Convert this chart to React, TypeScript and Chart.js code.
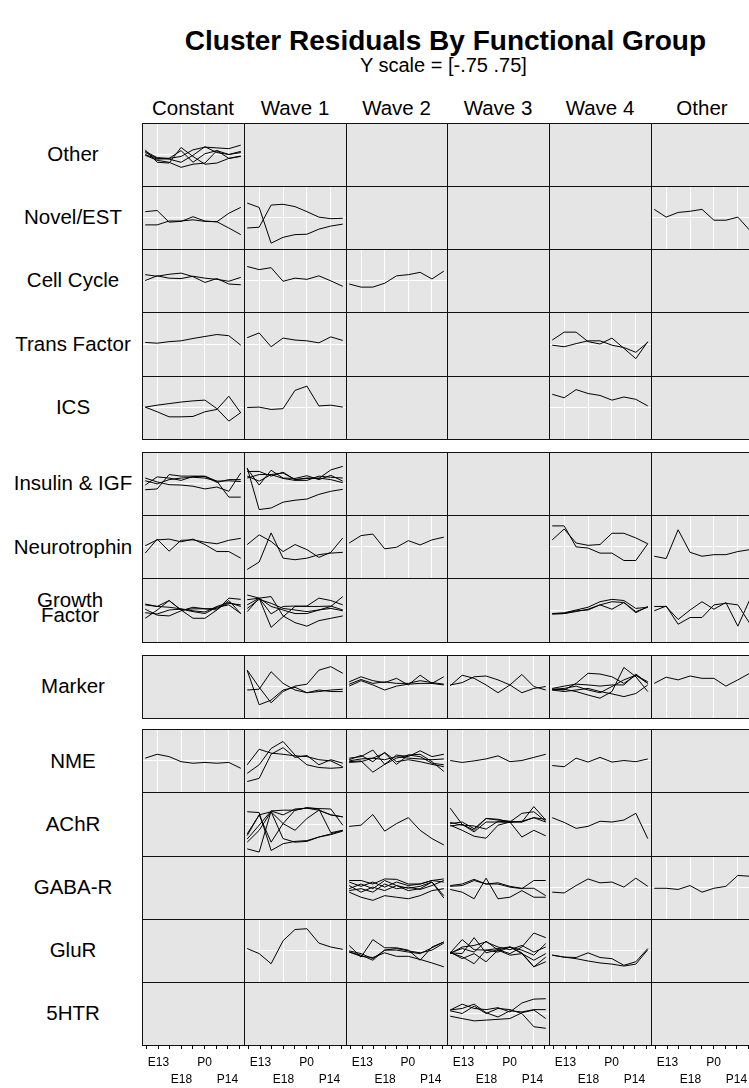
import React, { useEffect, useRef } from "react";
import { Chart, registerables } from "chart.js";

Chart.register(...registerables);

// ---------- text / categories ----------
const titleText = "Cluster Residuals By Functional Group";
const subtitleText = "Y scale = [-.75 .75]";
const clusters = ["Constant", "Wave 1", "Wave 2", "Wave 3", "Wave 4", "Other"];
const groups = [
  "Other", "Novel/EST", "Cell Cycle", "Trans Factor", "ICS",
  "Insulin & IGF", "Neurotrophin", "Growth Factor",
  "Marker",
  "NME", "AChR", "GABA-R", "GluR", "5HTR",
];
const groupLabelLines: Record<string, string[]> = { "Growth Factor": ["Growth", "Factor"] };
const timePoints = ["E11", "E13", "E15", "E18", "E21", "P0", "P7", "P14", "A"];
const firstLineTicks = ["E13", "P0"];
const secondLineTicks = ["E18", "P14"];
const gridTimePoints = ["E13", "E18", "P0", "P14"];
const yLimits = [-0.75, 0.75];

// ---------- series values (residuals at the 9 time points) ----------
const otherConstant = [
  [0.12, -0.2, -0.22, 0.18, -0.05, -0.25, -0.22, -0.1, -0.05],
  [0.0, -0.12, -0.1, -0.05, 0.12, 0.19, 0.17, 0.15, 0.24],
  [0.05, -0.1, -0.12, -0.2, -0.02, 0.2, 0.05, 0.0, 0.08],
  [-0.02, -0.15, -0.2, -0.33, -0.25, -0.22, 0.1, 0.0, 0.05],
  [0.08, -0.08, -0.1, 0.1, -0.2, 0.02, 0.1, -0.1, -0.04],
];
const novelConstant = [
  [0.15, 0.18, -0.12, -0.1, 0.02, -0.09, -0.11, 0.11, 0.26],
  [-0.19, -0.19, -0.09, -0.09, -0.06, -0.1, -0.11, -0.27, -0.44],
];
const novelWave1 = [
  [0.37, 0.26, -0.66, -0.51, -0.44, -0.43, -0.3, -0.22, -0.17],
  [-0.27, -0.25, 0.32, 0.34, 0.28, 0.15, 0.01, -0.03, -0.02],
];
const novelOther = [[0.21, 0.01, 0.13, 0.16, 0.21, -0.07, -0.07, 0.01, -0.33]];
const cellCycleConstant = [
  [0.15, 0.11, 0.16, 0.19, 0.1, -0.05, 0.05, -0.09, -0.11],
  [0.0, 0.12, 0.06, 0.05, 0.11, 0.06, 0.03, -0.02, 0.08],
];
const cellCycleWave1 = [[0.36, 0.28, 0.33, -0.02, 0.06, 0.03, 0.12, -0.01, -0.15]];
const cellCycleWave2 = [[-0.09, -0.17, -0.17, -0.07, 0.12, 0.15, 0.21, 0.04, 0.24]];
const transConstant = [[0.04, 0.02, 0.06, 0.08, 0.14, 0.19, 0.24, 0.21, -0.03]];
const transWave1 = [[0.16, 0.28, -0.07, 0.15, 0.1, 0.08, 0.03, 0.18, 0.09]];
const transWave4 = [
  [0.1, 0.3, 0.3, 0.06, 0.0, 0.15, -0.11, -0.37, 0.06],
  [-0.03, -0.07, 0.01, 0.08, 0.08, -0.03, -0.09, -0.21, 0.04],
];
const icsConstant = [
  [0.01, 0.06, 0.1, 0.14, 0.17, 0.19, -0.03, -0.35, -0.13],
  [0.01, -0.11, -0.24, -0.24, -0.23, -0.11, -0.05, 0.29, -0.14],
];
const icsWave1 = [[0.0, 0.01, -0.05, -0.03, 0.44, 0.55, 0.04, 0.06, 0.01]];
const icsWave4 = [[0.34, 0.25, 0.46, 0.36, 0.31, 0.19, 0.27, 0.21, 0.04]];
const insulinConstant = [
  [-0.16, -0.14, 0.23, 0.19, 0.19, 0.19, 0.06, -0.35, -0.35],
  [0.14, 0.04, -0.03, -0.04, -0.07, -0.14, -0.09, -0.2, 0.27],
  [-0.04, 0.17, 0.14, 0.08, 0.18, 0.18, 0.03, 0.1, 0.1],
  [0.07, -0.01, 0.1, 0.14, 0.16, 0.14, 0.06, 0.07, 0.05],
];
const insulinWave1 = [
  [0.4, -0.67, -0.63, -0.48, -0.43, -0.4, -0.28, -0.2, -0.15],
  [0.31, 0.31, 0.19, 0.29, 0.1, 0.14, 0.13, 0.35, 0.44],
  [0.38, -0.04, 0.34, 0.14, 0.13, 0.2, 0.1, 0.21, 0.06],
  [0.19, 0.06, 0.23, 0.27, 0.1, 0.13, 0.14, 0.1, 0.02],
  [0.14, 0.23, 0.23, 0.13, 0.08, 0.08, 0.19, 0.16, 0.14],
];
const neuroConstant = [
  [-0.17, 0.19, -0.12, 0.16, 0.17, 0.11, 0.07, 0.16, 0.21],
  [0.02, 0.17, 0.19, 0.12, 0.19, 0.05, -0.13, -0.13, -0.3],
];
const neuroWave1 = [
  [-0.59, -0.4, 0.35, -0.3, -0.34, -0.3, -0.21, -0.17, -0.15],
  [0.05, 0.3, 0.13, -0.13, 0.05, -0.08, -0.28, -0.15, 0.22],
];
const neuroWave2 = [[0.09, 0.28, 0.32, -0.06, -0.02, 0.15, 0.04, 0.17, 0.24]];
const neuroWave4 = [
  [0.53, 0.53, -0.01, -0.04, -0.17, -0.17, -0.36, -0.36, 0.07],
  [0.17, 0.45, 0.09, 0.03, 0.05, 0.34, 0.34, 0.22, 0.07],
];
const neuroOther = [[-0.25, -0.31, 0.43, -0.15, -0.25, -0.21, -0.21, -0.13, -0.08]];
const growthConstant = [
  [0.15, 0.09, 0.24, 0.0, -0.21, -0.21, 0.0, 0.3, 0.27],
  [-0.21, 0.0, 0.24, 0.0, 0.03, 0.03, 0.0, 0.24, -0.09],
  [0.02, -0.13, -0.15, -0.02, 0.07, 0.03, 0.04, 0.17, 0.13],
  [-0.07, -0.1, 0.0, 0.02, -0.04, -0.09, 0.07, 0.13, -0.09],
  [0.13, 0.09, 0.07, 0.03, -0.02, -0.05, 0.09, 0.19, 0.09],
];
const growthWave1 = [
  [0.38, 0.3, 0.34, -0.15, -0.32, -0.41, -0.27, -0.21, -0.15],
  [-0.04, 0.3, -0.44, -0.17, 0.09, 0.1, 0.3, 0.24, 0.13],
  [0.13, 0.3, 0.09, 0.0, -0.09, -0.09, 0.0, 0.09, 0.34],
  [0.26, 0.3, -0.1, 0.09, 0.1, 0.09, 0.09, 0.1, 0.0],
  [0.04, 0.27, 0.17, 0.04, 0.0, -0.04, 0.0, 0.04, -0.02],
];
const growthWave4 = [
  [-0.1, -0.09, -0.02, 0.0, 0.13, 0.21, 0.19, -0.04, 0.07],
  [-0.09, -0.07, 0.0, 0.07, 0.21, 0.27, 0.24, 0.04, 0.07],
  [-0.1, -0.09, -0.04, 0.02, 0.13, 0.02, 0.19, -0.07, 0.09],
];
const growthOther = [
  [0.09, 0.09, -0.24, 0.0, 0.21, 0.02, 0.19, -0.41, 0.26],
  [-0.02, 0.1, -0.36, -0.19, -0.19, 0.13, 0.17, 0.13, -0.34],
];
const markerWave1 = [
  [0.42, -0.02, -0.42, -0.13, 0.01, 0.06, 0.42, 0.51, 0.34],
  [-0.09, -0.07, 0.38, 0.08, -0.09, -0.16, -0.09, -0.13, -0.13],
  [0.41, -0.47, -0.35, -0.09, -0.02, -0.16, -0.13, -0.09, -0.07],
];
const markerWave2 = [
  [0.12, 0.25, 0.15, 0.1, 0.21, 0.04, 0.29, 0.08, 0.25],
  [0.01, 0.15, 0.04, -0.09, 0.01, 0.06, 0.08, 0.08, 0.04],
  [0.06, 0.18, 0.08, 0.12, 0.08, 0.08, 0.15, 0.1, 0.06],
];
const markerWave3 = [
  [0.02, 0.29, 0.21, 0.04, -0.16, 0.04, 0.31, 0.0, -0.09],
  [0.04, 0.1, 0.25, 0.27, 0.17, 0.04, -0.16, -0.05, 0.0],
];
const markerWave4 = [
  [-0.07, -0.09, 0.08, 0.34, 0.32, 0.25, 0.08, 0.29, 0.08],
  [-0.09, -0.07, -0.13, -0.22, -0.3, -0.13, 0.49, 0.25, -0.13],
  [-0.05, 0.01, 0.06, 0.04, 0.01, 0.04, 0.04, 0.32, 0.08],
  [-0.09, -0.13, -0.09, -0.05, -0.13, -0.19, -0.26, -0.18, 0.04],
  [-0.07, -0.05, 0.01, -0.09, -0.16, 0.0, 0.17, 0.29, 0.12],
];
const markerOther = [[0.08, 0.24, 0.17, 0.27, 0.21, 0.21, 0.01, 0.17, 0.34]];
const nmeConstant = [[0.06, 0.16, 0.1, -0.03, -0.07, -0.05, -0.07, -0.05, -0.2]];
const nmeWave1 = [
  [-0.11, 0.29, 0.19, 0.16, 0.12, 0.1, 0.02, -0.01, -0.16],
  [-0.33, -0.11, 0.31, 0.49, 0.14, -0.11, -0.18, -0.2, -0.18],
  [-0.54, -0.46, 0.16, 0.33, 0.08, 0.13, -0.11, 0.02, -0.07],
];
const nmeWave2 = [
  [0.06, 0.1, 0.27, -0.1, 0.14, 0.1, 0.25, 0.1, 0.16],
  [-0.01, 0.04, 0.06, 0.19, -0.1, 0.14, 0.1, -0.07, -0.11],
  [-0.03, -0.01, -0.3, -0.1, 0.06, 0.14, 0.16, -0.03, -0.28],
  [0.02, 0.13, -0.03, 0.21, -0.03, 0.02, -0.03, -0.1, -0.16],
  [-0.05, -0.03, 0.06, 0.02, 0.1, 0.06, 0.04, 0.02, 0.04],
];
const nmeWave3 = [[0.0, -0.05, -0.01, 0.04, 0.12, -0.03, 0.0, 0.08, 0.16]];
const nmeWave4 = [[-0.13, -0.16, 0.06, -0.04, 0.08, -0.04, 0.0, -0.03, 0.04]];
const achrWave1 = [
  [0.31, 0.29, -0.67, -0.5, -0.44, -0.42, -0.33, -0.25, -0.16],
  [-0.63, -0.71, 0.33, 0.35, 0.35, 0.41, 0.38, -0.22, -0.16],
  [-0.46, -0.16, 0.31, 0.01, 0.35, 0.41, 0.39, 0.38, -0.03],
  [-0.38, -0.03, 0.33, 0.23, 0.38, 0.4, 0.35, 0.23, 0.18],
  [-0.29, 0.23, -0.46, 0.01, -0.16, 0.14, 0.35, 0.23, 0.18],
  [-0.25, 0.23, 0.31, -0.37, -0.46, -0.44, -0.33, -0.27, -0.18],
];
const achrWave2 = [[-0.06, -0.03, 0.24, -0.18, 0.01, 0.16, -0.16, -0.37, -0.53]];
const achrWave3 = [
  [0.4, -0.01, -0.16, 0.14, 0.1, 0.07, 0.05, 0.44, 0.1],
  [0.04, -0.03, -0.05, -0.13, 0.07, 0.05, 0.27, 0.31, 0.07],
  [-0.03, -0.16, -0.31, -0.36, -0.03, 0.05, 0.05, 0.16, 0.12],
  [0.01, 0.05, -0.12, 0.14, 0.12, 0.05, -0.33, -0.16, -0.3],
  [-0.05, -0.01, -0.2, 0.05, 0.05, 0.04, 0.07, 0.16, 0.05],
];
const achrWave4 = [[0.16, 0.04, -0.11, -0.06, 0.07, 0.05, 0.1, 0.27, -0.37]];
const gabaWave2 = [
  [0.18, 0.18, 0.09, 0.22, 0.21, 0.09, 0.09, 0.18, 0.22],
  [-0.03, 0.09, -0.03, 0.18, 0.05, -0.02, 0.03, 0.14, -0.21],
  [-0.12, -0.25, -0.33, -0.21, -0.25, -0.29, -0.21, -0.08, -0.03],
  [0.05, -0.12, 0.01, -0.08, 0.05, -0.08, -0.03, 0.14, -0.27],
  [-0.08, -0.03, -0.12, 0.09, -0.03, 0.01, -0.05, 0.05, 0.18],
  [0.14, 0.03, 0.14, 0.01, 0.14, 0.05, 0.09, 0.18, 0.14],
];
const gabaWave3 = [
  [0.05, 0.09, 0.21, 0.09, 0.09, 0.01, -0.03, 0.18, 0.18],
  [-0.05, -0.12, -0.29, 0.24, -0.29, -0.25, -0.08, -0.25, -0.25],
  [0.03, 0.05, 0.18, 0.09, 0.12, 0.03, -0.02, -0.02, -0.21],
];
const gabaWave4 = [[-0.12, -0.14, 0.05, 0.22, 0.12, 0.14, 0.01, 0.24, 0.03]];
const gabaOther = [[-0.02, -0.02, -0.05, 0.05, -0.12, -0.02, 0.03, 0.31, 0.29]];
const glurWave1 = [[0.05, -0.08, -0.34, 0.25, 0.54, 0.56, 0.19, 0.09, 0.03]];
const glurWave2 = [
  [0.13, -0.17, 0.28, 0.07, 0.07, 0.01, -0.25, 0.09, 0.22],
  [-0.04, -0.12, -0.25, 0.01, 0.01, -0.04, -0.08, 0.07, 0.22],
  [-0.04, -0.15, -0.18, -0.06, -0.15, -0.15, -0.23, -0.32, -0.42],
  [-0.01, -0.08, -0.21, 0.01, 0.05, -0.01, -0.06, 0.01, 0.19],
];
const glurWave3 = [
  [-0.06, 0.28, 0.02, 0.01, 0.05, 0.09, -0.06, -0.42, -0.29],
  [-0.06, -0.08, 0.33, -0.06, 0.02, -0.08, 0.09, 0.45, 0.33],
  [-0.06, 0.05, -0.04, 0.24, 0.01, 0.09, 0.01, -0.12, 0.18],
  [-0.06, -0.16, -0.34, 0.01, -0.04, 0.09, -0.08, -0.25, -0.08],
  [-0.04, -0.21, -0.08, -0.29, 0.01, -0.12, -0.08, -0.42, -0.17],
  [-0.08, 0.09, 0.13, 0.22, 0.09, 0.02, 0.13, -0.04, 0.09],
];
const glurWave4 = [
  [-0.12, -0.17, -0.18, -0.06, -0.18, -0.21, -0.38, -0.29, 0.05],
  [-0.12, -0.17, -0.21, -0.27, -0.32, -0.35, -0.4, -0.35, 0.02],
];
const htrWave3 = [
  [0.09, 0.24, 0.13, 0.1, 0.15, 0.04, 0.27, 0.37, 0.38],
  [0.07, 0.0, 0.19, 0.0, 0.13, 0.1, 0.0, -0.34, -0.38],
  [-0.07, -0.13, -0.19, -0.17, -0.15, -0.13, 0.02, 0.09, -0.13],
  [0.09, 0.13, 0.24, 0.02, -0.09, 0.07, 0.04, 0.1, 0.1],
];

const cellSeries: Record<string, number[][]> = {
  "Other|Constant": otherConstant,
  "Novel/EST|Constant": novelConstant,
  "Novel/EST|Wave 1": novelWave1,
  "Novel/EST|Other": novelOther,
  "Cell Cycle|Constant": cellCycleConstant,
  "Cell Cycle|Wave 1": cellCycleWave1,
  "Cell Cycle|Wave 2": cellCycleWave2,
  "Trans Factor|Constant": transConstant,
  "Trans Factor|Wave 1": transWave1,
  "Trans Factor|Wave 4": transWave4,
  "ICS|Constant": icsConstant,
  "ICS|Wave 1": icsWave1,
  "ICS|Wave 4": icsWave4,
  "Insulin & IGF|Constant": insulinConstant,
  "Insulin & IGF|Wave 1": insulinWave1,
  "Neurotrophin|Constant": neuroConstant,
  "Neurotrophin|Wave 1": neuroWave1,
  "Neurotrophin|Wave 2": neuroWave2,
  "Neurotrophin|Wave 4": neuroWave4,
  "Neurotrophin|Other": neuroOther,
  "Growth Factor|Constant": growthConstant,
  "Growth Factor|Wave 1": growthWave1,
  "Growth Factor|Wave 4": growthWave4,
  "Growth Factor|Other": growthOther,
  "Marker|Wave 1": markerWave1,
  "Marker|Wave 2": markerWave2,
  "Marker|Wave 3": markerWave3,
  "Marker|Wave 4": markerWave4,
  "Marker|Other": markerOther,
  "NME|Constant": nmeConstant,
  "NME|Wave 1": nmeWave1,
  "NME|Wave 2": nmeWave2,
  "NME|Wave 3": nmeWave3,
  "NME|Wave 4": nmeWave4,
  "AChR|Wave 1": achrWave1,
  "AChR|Wave 2": achrWave2,
  "AChR|Wave 3": achrWave3,
  "AChR|Wave 4": achrWave4,
  "GABA-R|Wave 2": gabaWave2,
  "GABA-R|Wave 3": gabaWave3,
  "GABA-R|Wave 4": gabaWave4,
  "GABA-R|Other": gabaOther,
  "GluR|Wave 1": glurWave1,
  "GluR|Wave 2": glurWave2,
  "GluR|Wave 3": glurWave3,
  "GluR|Wave 4": glurWave4,
  "5HTR|Wave 3": htrWave3,
};

// ---------- layout ----------
const FONT = '"Liberation Sans", Arial, Helvetica, sans-serif';
const colLeft0 = 141.7;
const colW = 101.9;
const rowH = 63.2;
const groupSizes = [5, 3, 1, 5];
const groupTops = [122.7, 452, 654.5, 729.2];
const xPad = 0.27;
const yPad = 0.06;
const xMin = -xPad;
const xMax = timePoints.length - 1 + xPad;
const yMin = yLimits[0] - yPad;
const yMax = yLimits[1] + yPad;
const panelBg = "#e5e5e5";

const rowTops: number[] = [];
groupSizes.forEach((n, g) => {
  for (let k = 0; k < n; k++) rowTops.push(groupTops[g] + k * rowH);
});
const colEdge = (c: number) => Math.round(colLeft0 + c * colW);
const rowEdgeTop = (r: number) => Math.round(rowTops[r]);
const rowEdgeBottom = (r: number) => Math.round(rowTops[r] + rowH);
const gridBottom = rowEdgeBottom(groups.length - 1);

function CellChart({ series, width, height }: { series: number[][]; width: number; height: number }) {
  const ref = useRef<HTMLCanvasElement>(null);
  useEffect(() => {
    if (!ref.current) return;
    const chart = new Chart(ref.current, {
      type: "line",
      data: {
        datasets: series.map((s) => ({
          data: s.map((v, i) => ({ x: i, y: v })),
          borderColor: "#000000",
          borderWidth: 1,
          pointRadius: 0,
          fill: false,
          tension: 0,
        })),
      },
      options: {
        animation: false,
        responsive: false,
        devicePixelRatio: 1,
        events: [],
        layout: { padding: 0 },
        plugins: { legend: { display: false }, tooltip: { enabled: false }, title: { display: false } },
        scales: {
          x: {
            type: "linear",
            min: xMin,
            max: xMax,
            afterBuildTicks: (a: any) => {
              a.ticks = gridTimePoints.map((t) => ({ value: timePoints.indexOf(t) }));
            },
            ticks: { display: false },
            grid: { color: "#ffffff", lineWidth: 1, drawTicks: false },
            border: { display: false },
          },
          y: {
            type: "linear",
            min: yMin,
            max: yMax,
            afterBuildTicks: (a: any) => {
              a.ticks = [{ value: 0 }];
            },
            ticks: { display: false },
            grid: { color: "#ffffff", lineWidth: 1, drawTicks: false },
            border: { display: false },
          },
        },
      } as any,
    });
    return () => chart.destroy();
  }, [series, width, height]);
  return <canvas ref={ref} width={width} height={height} style={{ position: "absolute", left: 0, top: 0 }} />;
}

const AXIS_OVERLAP = 10;
const AXIS_H = 42;

function AxisChart({ width }: { width: number }) {
  const ref = useRef<HTMLCanvasElement>(null);
  useEffect(() => {
    if (!ref.current) return;
    const chart = new Chart(ref.current, {
      type: "line",
      data: { datasets: [] },
      options: {
        animation: false,
        responsive: false,
        devicePixelRatio: 1,
        events: [],
        layout: { padding: 0 },
        plugins: { legend: { display: false }, tooltip: { enabled: false } },
        scales: {
          x: {
            type: "linear",
            position: "bottom",
            min: xMin,
            max: xMax,
            afterBuildTicks: (a: any) => {
              a.ticks = timePoints.map((_, i) => ({ value: i }));
            },
            afterFit: (a: any) => {
              a.height = AXIS_H;
            },
            ticks: {
              autoSkip: false,
              maxRotation: 0,
              minRotation: 0,
              padding: 5,
              color: "#000000",
              font: { family: FONT, size: 12, lineHeight: 1.4 },
              callback: (v: any) => {
                const lab = timePoints[Math.round(Number(v))];
                if (firstLineTicks.includes(lab)) return [lab, ""];
                if (secondLineTicks.includes(lab)) return ["", lab];
                return "";
              },
            },
            grid: {
              drawOnChartArea: false,
              drawTicks: true,
              tickLength: 4,
              tickColor: "#000000",
              tickWidth: 1,
              color: "#000000",
            },
            border: { display: false },
          },
          y: { display: false, min: 0, max: 1 },
        },
      } as any,
    });
    return () => chart.destroy();
  }, [width]);
  return <canvas ref={ref} width={width} height={AXIS_OVERLAP + AXIS_H} style={{ position: "absolute", left: 0, top: 0 }} />;
}

export default function App() {
  const cells: React.ReactNode[] = [];
  const borders: React.ReactNode[] = [];
  groups.forEach((g, r) => {
    clusters.forEach((c, ci) => {
      const left = colEdge(ci);
      const right = colEdge(ci + 1);
      const top = rowEdgeTop(r);
      const bottom = rowEdgeBottom(r);
      const w = right - left;
      const h = bottom - top;
      const series = cellSeries[`${g}|${c}`];
      cells.push(
        <div key={`cell-${r}-${ci}`} style={{ position: "absolute", left, top, width: w, height: h, background: panelBg }}>
          {series ? <CellChart series={series} width={w} height={h} /> : null}
        </div>
      );
      borders.push(
        <div
          key={`b-${r}-${ci}`}
          style={{
            position: "absolute",
            left,
            top,
            width: w + 1,
            height: h + 1,
            boxSizing: "border-box",
            border: "1px solid #111",
          }}
        />
      );
    });
  });

  const gridCenterX = (colLeft0 + colLeft0 + clusters.length * colW) / 2;

  return (
    <div
      style={{
        position: "absolute",
        left: 0,
        top: 0,
        width: 749,
        height: 1088,
        overflow: "hidden",
        background: "#ffffff",
        fontFamily: FONT,
        color: "#000",
      }}
    >
      <div
        style={{
          position: "absolute",
          left: gridCenterX - 2,
          top: 27,
          transform: "translateX(-50%)",
          whiteSpace: "nowrap",
          fontSize: 28,
          lineHeight: "28px",
          fontWeight: "bold",
        }}
      >
        {titleText}
      </div>
      <div
        style={{
          position: "absolute",
          left: gridCenterX - 4,
          top: 55,
          transform: "translateX(-50%)",
          whiteSpace: "nowrap",
          fontSize: 20,
          lineHeight: "20px",
        }}
      >
        {subtitleText}
      </div>
      {clusters.map((c, ci) => (
        <div
          key={`h-${ci}`}
          style={{
            position: "absolute",
            left: (colEdge(ci) + colEdge(ci + 1)) / 2,
            top: 98,
            transform: "translateX(-50%)",
            whiteSpace: "nowrap",
            fontSize: 20.5,
            lineHeight: "20.5px",
          }}
        >
          {c}
        </div>
      ))}
      {groups.map((g, r) => {
        const lines = groupLabelLines[g] || [g];
        const center = rowTops[r] + rowH / 2 - (lines.length > 1 ? 2 : 0);
        const spacing = 15;
        return lines.map((ln, k) => (
          <div
            key={`l-${r}-${k}`}
            style={{
              position: "absolute",
              left: lines.length > 1 ? 70 : 73,
              top: center - 10.25 + (k - (lines.length - 1) / 2) * spacing,
              transform: "translateX(-50%)",
              whiteSpace: "nowrap",
              fontSize: 20.5,
              lineHeight: "20.5px",
            }}
          >
            {ln}
          </div>
        ));
      })}
      {cells}
      {borders}
      {clusters.map((c, ci) => {
        const left = colEdge(ci);
        const w = colEdge(ci + 1) - left;
        return (
          <div
            key={`ax-${ci}`}
            style={{ position: "absolute", left, top: gridBottom - AXIS_OVERLAP, width: w, height: AXIS_OVERLAP + AXIS_H }}
          >
            <AxisChart width={w} />
          </div>
        );
      })}
    </div>
  );
}
